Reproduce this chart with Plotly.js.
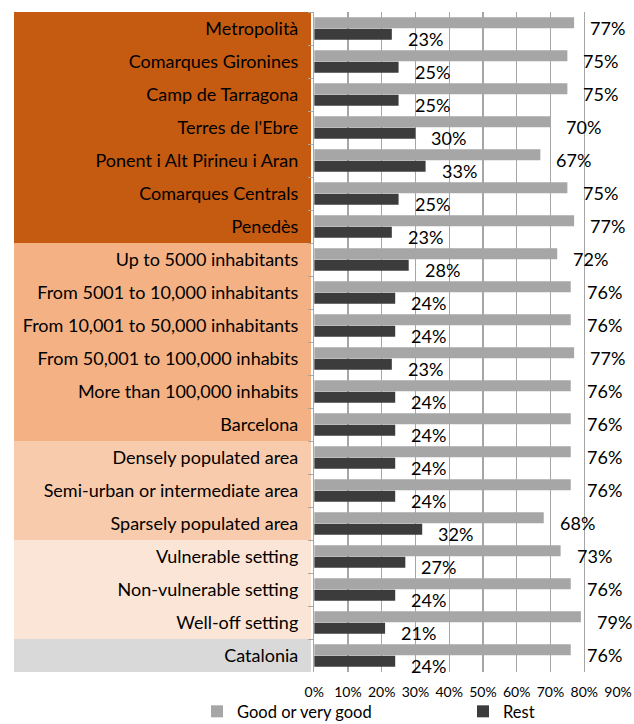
<!DOCTYPE html>
<html>
<head>
<meta charset="utf-8">
<script src="https://cdn.plot.ly/plotly-3.0.1.min.js"></script>
<style>html,body{margin:0;padding:0;background:#fff;}</style>
</head>
<body>
<div id="chart" style="width:634px;height:724px;"></div>
<script>
const categories = [
  "Metropolità", "Comarques Gironines", "Camp de Tarragona", "Terres de l'Ebre",
  "Ponent i Alt Pirineu i Aran", "Comarques Centrals", "Penedès",
  "Up to 5000 inhabitants", "From 5001 to 10,000 inhabitants", "From 10,001 to 50,000 inhabitants",
  "From 50,001 to 100,000 inhabits", "More than 100,000 inhabits", "Barcelona",
  "Densely populated area", "Semi-urban or intermediate area", "Sparsely populated area",
  "Vulnerable setting", "Non-vulnerable setting", "Well-off setting", "Catalonia"
];
const goodValues = [77, 75, 75, 70, 67, 75, 77, 72, 76, 76, 77, 76, 76, 76, 76, 68, 73, 76, 79, 76];
const restValues = [23, 25, 25, 30, 33, 25, 23, 28, 24, 24, 23, 24, 24, 24, 24, 32, 27, 24, 21, 24];
const seriesNames = ["Good or very good", "Rest"];
// groups of categories: [first index, last index, band colour]
const groups = [
  [0, 6, "#C55A11"],
  [7, 12, "#F4B183"],
  [13, 15, "#F8CBAD"],
  [16, 18, "#FBE5D6"],
  [19, 19, "#D9D9D9"]
];

const FONT = "Lato, 'Open Sans', sans-serif";
const n = categories.length;

const traces = [
  {type: "bar", orientation: "h", name: seriesNames[0], y: categories, x: goodValues,
   marker: {color: "#A6A6A6"}, hoverinfo: "x", legend: "legend"},
  {type: "bar", orientation: "h", name: seriesNames[1], y: categories, x: restValues,
   marker: {color: "#3C3C3C"}, hoverinfo: "x", legend: "legend2"}
];

const shapes = groups.map(g => ({
  type: "rect", xref: "paper", yref: "paper", layer: "below",
  x0: 0, x1: 0.4917,
  y1: (n - g[0]) / n, y0: (n - 1 - g[1]) / n,
  fillcolor: g[2], line: {width: 0}
}));

const annotations = [];
categories.forEach((c, i) => {
  annotations.push({x: goodValues[i], y: c, xref: "x", yref: "y", text: goodValues[i] + "%",
    showarrow: false, xanchor: "left", xshift: 14, yshift: 1, font: {family: FONT, size: 18, color: "#000"}});
  annotations.push({x: restValues[i], y: c, xref: "x", yref: "y", text: restValues[i] + "%",
    showarrow: false, xanchor: "left", xshift: 14, yshift: -10, font: {family: FONT, size: 18, color: "#000"}});
});

const legendCommon = {orientation: "h", xanchor: "left", yanchor: "middle", y: -0.06,
  font: {family: FONT, size: 16.5, color: "#000"}, itemclick: false, bgcolor: "rgba(0,0,0,0)",
  borderwidth: 0};

const layout = {
  width: 634, height: 724,
  margin: {l: 14, r: 16, t: 12, b: 52, autoexpand: false},
  paper_bgcolor: "#fff", plot_bgcolor: "rgba(0,0,0,0)",
  font: {family: FONT, color: "#000"},
  barmode: "group", bargap: 0.30, bargroupgap: 0.06,
  showlegend: true,
  legend: Object.assign({}, legendCommon, {x: 0.303}),
  legend2: Object.assign({}, legendCommon, {x: 0.7434}),
  xaxis: {domain: [0.497, 1], range: [0, 90], dtick: 10, ticksuffix: "%",
    showgrid: true, gridcolor: "#A6A6A6", gridwidth: 1.3, zeroline: false, showline: false,
    ticks: "", ticklabelstandoff: 10, tickfont: {family: FONT, size: 14, color: "#000"}, fixedrange: true},
  yaxis: {type: "category", range: [n - 0.5, -0.5], autorange: false,
    showline: true, linecolor: "#A6A6A6", linewidth: 1.3,
    ticks: "outside", tickson: "boundaries", ticklen: 5, tickcolor: "#A6A6A6",
    ticklabelstandoff: 11,
    tickfont: {family: FONT, size: 18, color: "#000"}, showgrid: false, fixedrange: true},
  shapes: shapes,
  annotations: annotations
};

Plotly.newPlot("chart", traces, layout, {displayModeBar: false, staticPlot: true});
</script>
</body>
</html>
